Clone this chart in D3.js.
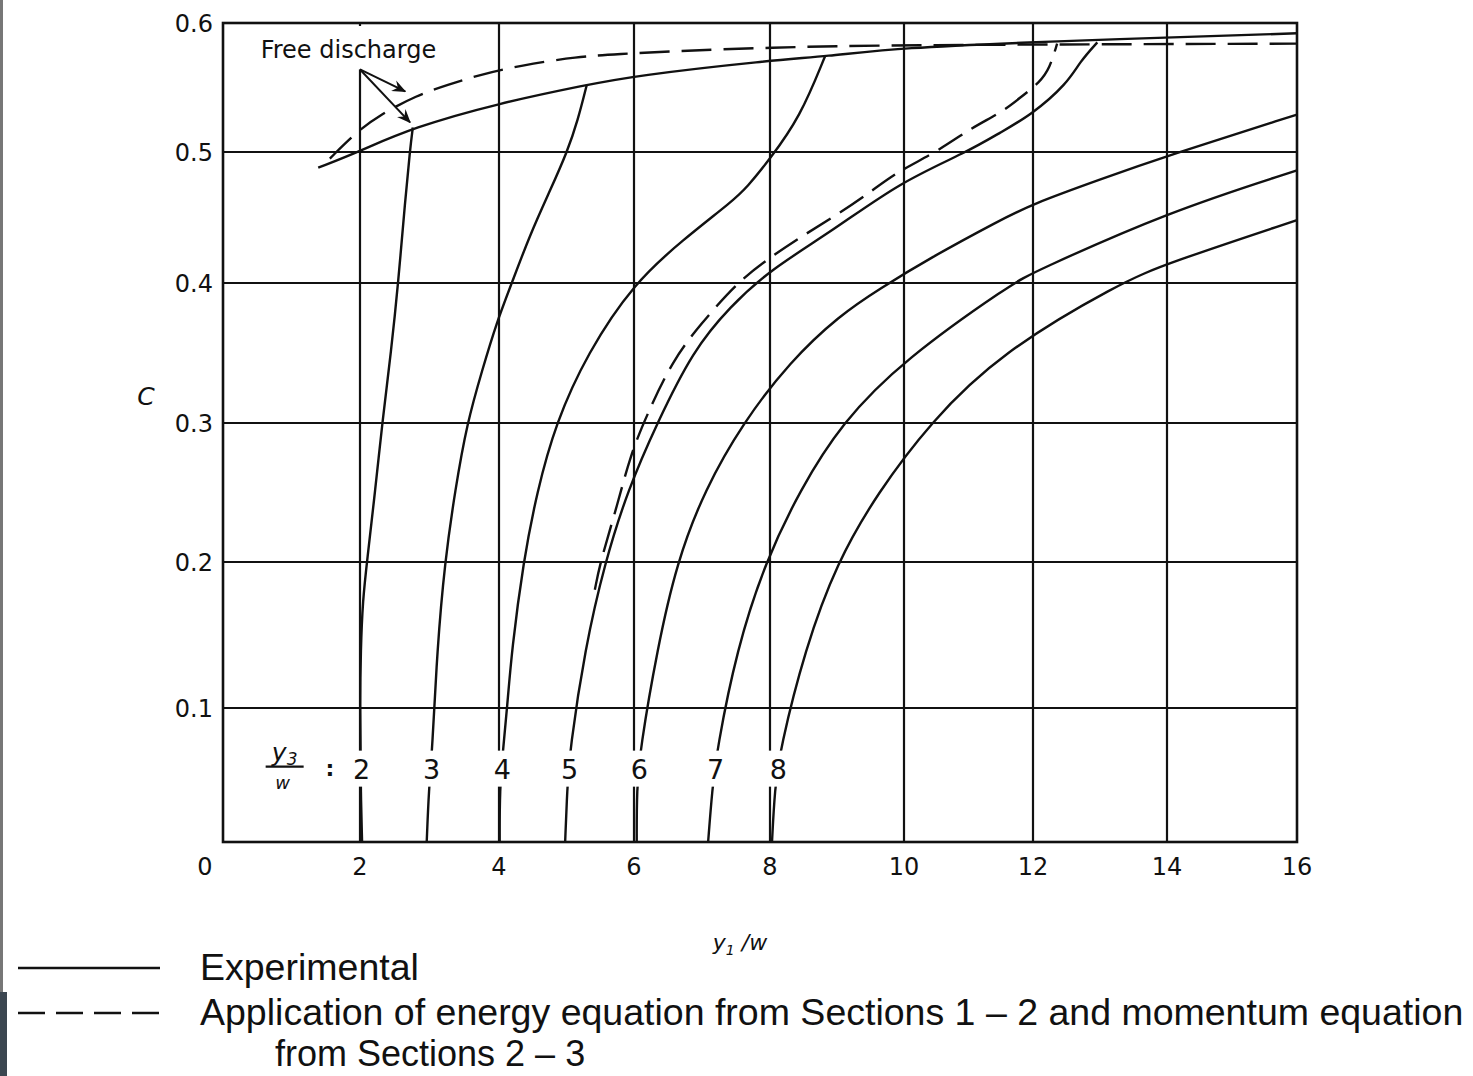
<!DOCTYPE html>
<html>
<head>
<meta charset="utf-8">
<script src="https://cdn.jsdelivr.net/npm/d3@7"></script>
<style>
  body { margin: 0; background: #fff; }
  svg { display: block; }
</style>
</head>
<body>
<svg id="chart" width="1473" height="1076"></svg>
<script>
// ticks
const xTicks = [0, 2, 4, 6, 8, 10, 12, 14, 16];
const yTicks = [0, 0.1, 0.2, 0.3, 0.4, 0.5, 0.6];

// experimental curves, one per y3/w (x = y1/w, c = C)
const ratios = [2, 3, 4, 5, 6, 7, 8];
const x2 = [2.03, 2.01, 2.01, 2.0, 2.01, 2.04, 2.10, 2.22, 2.32, 2.45, 2.55, 2.65, 2.72, 2.76];
const c2 = [0, 0.039, 0.069, 0.1, 0.14, 0.174, 0.2, 0.252, 0.3, 0.352, 0.4, 0.463, 0.502, 0.519];
const x3 = [2.96, 2.99, 3.04, 3.11, 3.22, 3.37, 3.54, 3.76, 3.96, 4.19, 4.46, 4.76, 5.01, 5.17, 5.30];
const c3 = [0, 0.039, 0.069, 0.14, 0.2, 0.252, 0.3, 0.338, 0.371, 0.4, 0.437, 0.471, 0.5, 0.525, 0.552];
const x4 = [4.01, 4.01, 4.06, 4.12, 4.19, 4.36, 4.56, 4.84, 5.31, 6.0, 6.72, 7.46, 7.66, 7.99, 8.45, 8.82];
const c4 = [0, 0.039, 0.069, 0.1, 0.14, 0.2, 0.25, 0.3, 0.35, 0.4, 0.433, 0.463, 0.473, 0.494, 0.527, 0.574];
const x5 = [4.98, 5.01, 5.05, 5.27, 5.57, 5.91, 6.34, 6.87, 7.41, 8.0, 8.94, 9.94, 10.98, 11.49, 11.98, 12.51, 12.70, 12.96];
const c5 = [0, 0.039, 0.069, 0.14, 0.2, 0.252, 0.3, 0.352, 0.383, 0.410, 0.440, 0.477, 0.5, 0.515, 0.529, 0.553, 0.570, 0.585];
const x6 = [6.04, 6.04, 6.09, 6.34, 6.63, 7.04, 7.60, 8.30, 9.04, 9.64, 10.40, 11.49, 11.98, 13.0, 14.0, 16.0];
const c6 = [0, 0.039, 0.069, 0.14, 0.2, 0.252, 0.3, 0.344, 0.377, 0.396, 0.419, 0.448, 0.460, 0.479, 0.497, 0.529];
const x7 = [7.09, 7.15, 7.22, 7.51, 7.93, 8.45, 9.07, 9.99, 11.69, 12.0, 14.0, 16.0];
const c7 = [0, 0.039, 0.069, 0.14, 0.2, 0.252, 0.3, 0.345, 0.4, 0.408, 0.454, 0.486];
const x8 = [8.03, 8.07, 8.15, 8.52, 9.0, 9.61, 10.40, 11.49, 13.30, 14.0, 16.0];
const c8 = [0, 0.039, 0.069, 0.14, 0.2, 0.25, 0.3, 0.35, 0.4, 0.415, 0.448];

// theory curve (energy + momentum)
const theoryX = [5.42, 5.50, 5.76, 5.94, 6.19, 6.57, 6.97, 7.51, 7.96, 8.45, 8.94, 9.49, 9.90, 10.51, 11.05, 11.49, 11.80, 12.10, 12.25, 12.36];
const theoryC = [0.181, 0.2, 0.242, 0.276, 0.306, 0.345, 0.370, 0.4, 0.418, 0.435, 0.450, 0.469, 0.485, 0.5, 0.519, 0.530, 0.542, 0.554, 0.565, 0.584];

// free discharge, experimental and theory
const freeX = [1.39, 1.97, 2.76, 4.01, 5.30, 5.99, 7.99, 8.82, 9.99, 11.99, 12.96, 16.0];
const freeC = [0.488, 0.5, 0.519, 0.538, 0.552, 0.559, 0.571, 0.574, 0.581, 0.585, 0.587, 0.592];
const freeTheoryX = [1.56, 1.96, 2.29, 2.82, 3.26, 3.73, 4.31, 5.16, 5.80, 6.49, 8.0, 9.75, 16.0];
const freeTheoryC = [0.495, 0.516, 0.529, 0.544, 0.552, 0.560, 0.567, 0.574, 0.576, 0.578, 0.581, 0.583, 0.584];

// pixel positions of the grid lines (scanned chart, slightly uneven)
const xPix = [223, 360, 499, 634, 770, 904, 1033, 1167, 1297];
const yPix = [842, 708, 562, 423, 283, 152, 23];

const svg = d3.select("#chart");
svg.append("rect").attr("width", 1473).attr("height", 1076).attr("fill", "#fff");

// left frame edge
svg.append("rect").attr("x", 0).attr("y", 0).attr("width", 3).attr("height", 1076).attr("fill", "#777");
svg.append("rect").attr("x", 0).attr("y", 992).attr("width", 7).attr("height", 84).attr("fill", "#3b4650");

const xScale = d3.scaleLinear().domain(xTicks).range(xPix);
const yScale = d3.scaleLinear().domain(yTicks).range(yPix);

const ink = "#111";
const grid = svg.append("g").attr("stroke", ink).attr("stroke-width", 2.2);
grid.selectAll("line.h").data(yTicks.slice(1, -1)).join("line")
    .attr("class", "h")
    .attr("x1", xScale(0)).attr("x2", xScale(16))
    .attr("y1", d => yScale(d)).attr("y2", d => yScale(d));
grid.selectAll("line.v").data(xTicks.slice(1, -1)).join("line")
    .attr("class", "v")
    .attr("x1", d => xScale(d)).attr("x2", d => xScale(d))
    .attr("y1", yScale(0.6)).attr("y2", yScale(0));
svg.append("rect")
    .attr("x", xScale(0)).attr("y", yScale(0.6))
    .attr("width", xScale(16) - xScale(0)).attr("height", yScale(0) - yScale(0.6))
    .attr("fill", "none").attr("stroke", ink).attr("stroke-width", 2.6);

// mask top of the x=2 grid line under the "Free discharge" note
svg.append("rect")
    .attr("x", 250).attr("y", yScale(0.6) + 3)
    .attr("width", 200).attr("height", yScale(0.564) - yScale(0.6) - 3)
    .attr("fill", "#fff");

const line = d3.line()
    .x(d => xScale(d[0]))
    .y(d => yScale(d[1]))
    .curve(d3.curveBasis);

const zip = (xs, cs) => xs.map((x, i) => [x, cs[i]]);

const expCurves = [zip(x2, c2), zip(x3, c3), zip(x4, c4), zip(x5, c5), zip(x6, c6), zip(x7, c7), zip(x8, c8)];

const curves = svg.append("g").attr("fill", "none").attr("stroke", ink).attr("stroke-width", 2.4);
curves.selectAll("path.exp").data(expCurves).join("path")
    .attr("class", "exp")
    .attr("d", line);
curves.append("path").attr("d", line(zip(freeX, freeC)));
curves.append("path").attr("d", line(zip(freeTheoryX, freeTheoryC)))
    .attr("stroke-dasharray", "30,12");
curves.append("path").attr("d", line(zip(theoryX, theoryC)))
    .attr("stroke-dasharray", "28,11");

// y3/w labels on the curves
const labelC = 0.054;
function xAtC(pts, c) {
    for (let i = 1; i < pts.length; i++) {
        if (pts[i][1] >= c) {
            const t = (c - pts[i - 1][1]) / (pts[i][1] - pts[i - 1][1]);
            return pts[i - 1][0] + t * (pts[i][0] - pts[i - 1][0]);
        }
    }
    return pts[pts.length - 1][0];
}
const labelX = expCurves.map(p => xAtC(p, labelC));
const labs = svg.append("g");
labs.selectAll("rect").data(ratios).join("rect")
    .attr("x", (d, i) => xScale(labelX[i]) - 12)
    .attr("y", yScale(labelC) - 19)
    .attr("width", 24).attr("height", 36)
    .attr("fill", "#fff");
labs.selectAll("text").data(ratios).join("text")
    .attr("x", (d, i) => xScale(labelX[i]) + 1)
    .attr("y", yScale(labelC))
    .attr("dy", "0.36em")
    .attr("text-anchor", "middle")
    .attr("font-family", "DejaVu Sans")
    .attr("font-size", 27)
    .attr("fill", ink)
    .text(d => d);

// y3/w fraction
const fx = xScale(0.9);
const fy = yScale(labelC);
svg.append("text").attr("x", fx).attr("y", fy - 9)
    .attr("text-anchor", "middle")
    .attr("font-family", "DejaVu Sans").attr("font-style", "italic")
    .attr("font-size", 25).attr("fill", ink)
    .text("y").append("tspan").attr("font-size", 17).attr("dy", 4).text("3");
svg.append("line").attr("x1", fx - 19).attr("x2", fx + 19)
    .attr("y1", fy - 3).attr("y2", fy - 3)
    .attr("stroke", ink).attr("stroke-width", 2.2);
svg.append("text").attr("x", fx - 2).attr("y", fy + 19)
    .attr("text-anchor", "middle")
    .attr("font-family", "DejaVu Sans").attr("font-style", "italic")
    .attr("font-size", 18).attr("fill", ink)
    .text("w");
svg.append("text").attr("x", xScale(1.56)).attr("y", fy)
    .attr("dy", "0.3em")
    .attr("text-anchor", "middle")
    .attr("font-family", "DejaVu Sans").attr("font-weight", "bold")
    .attr("font-size", 22).attr("fill", ink)
    .text(":");

// free discharge note with arrows
const defs = svg.append("defs");
defs.append("marker").attr("id", "arrow")
    .attr("viewBox", "0 0 12 10").attr("refX", 11).attr("refY", 5)
    .attr("markerWidth", 14).attr("markerHeight", 12)
    .attr("markerUnits", "userSpaceOnUse")
    .attr("orient", "auto")
    .append("path").attr("d", "M0,0 L12,5 L0,10 L4,5 Z").attr("fill", ink);

svg.append("text")
    .attr("x", xScale(0.55)).attr("y", yScale(0.6) + 35)
    .attr("font-family", "DejaVu Sans").attr("font-size", 24)
    .attr("fill", ink)
    .text("Free discharge");
const arrowFrom = [2.0, 0.564];
const arrowTo = [[2.65, 0.547], [2.72, 0.523]];
svg.append("g").selectAll("line").data(arrowTo).join("line")
    .attr("x1", xScale(arrowFrom[0])).attr("y1", yScale(arrowFrom[1]))
    .attr("x2", d => xScale(d[0])).attr("y2", d => yScale(d[1]))
    .attr("stroke", ink).attr("stroke-width", 2)
    .attr("marker-end", "url(#arrow)");

// tick labels
svg.append("g").selectAll("text").data(yTicks.slice(1)).join("text")
    .attr("x", xScale(0) - 10)
    .attr("y", d => yScale(d))
    .attr("dy", "0.36em")
    .attr("text-anchor", "end")
    .attr("font-family", "DejaVu Sans").attr("font-size", 24)
    .attr("fill", ink)
    .text(d => d3.format(".1f")(d));
svg.append("g").selectAll("text").data(xTicks).join("text")
    .attr("x", d => d === 0 ? xScale(d) - 18 : xScale(d))
    .attr("y", yScale(0) + 33)
    .attr("text-anchor", "middle")
    .attr("font-family", "DejaVu Sans").attr("font-size", 24)
    .attr("fill", ink)
    .text(d => d);

// axis titles
svg.append("text").attr("x", 146).attr("y", 405)
    .attr("text-anchor", "middle")
    .attr("font-family", "DejaVu Sans").attr("font-style", "italic")
    .attr("font-size", 25).attr("fill", ink)
    .text("C");
const xt = svg.append("text").attr("x", 740).attr("y", 950)
    .attr("text-anchor", "middle")
    .attr("font-family", "DejaVu Sans").attr("font-style", "italic")
    .attr("font-size", 22).attr("fill", ink);
xt.append("tspan").text("y");
xt.append("tspan").attr("font-size", 14).attr("dy", 5).text("1");
xt.append("tspan").attr("dy", -5).text(" /w");

// legend
const legendItems = ["Experimental", "Application of energy equation from Sections 1 \u2013 2 and momentum equation"];
const legendDash = [null, "27,11"];
const legend = svg.append("g");
legend.selectAll("line").data(legendItems).join("line")
    .attr("x1", 18).attr("x2", 160)
    .attr("y1", (d, i) => 968 + i * 45).attr("y2", (d, i) => 968 + i * 45)
    .attr("stroke", ink).attr("stroke-width", 2.6)
    .attr("stroke-dasharray", (d, i) => legendDash[i]);
legend.selectAll("text").data(legendItems).join("text")
    .attr("x", 200)
    .attr("y", (d, i) => 980 + i * 45)
    .attr("font-family", "Liberation Sans").attr("font-size", 37.5)
    .attr("fill", ink)
    .text(d => d);
legend.append("text")
    .attr("x", 275).attr("y", 1066)
    .attr("font-family", "Liberation Sans").attr("font-size", 36)
    .attr("fill", ink)
    .text("from Sections 2 \u2013 3");
</script>
</body>
</html>
